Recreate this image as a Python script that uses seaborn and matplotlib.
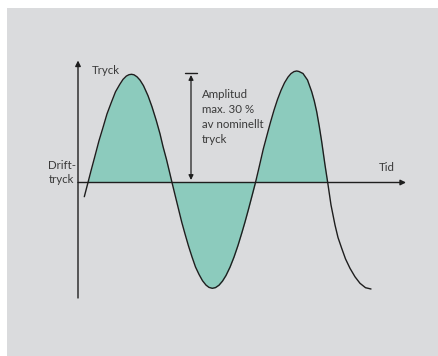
import numpy as np
import pandas as pd
import matplotlib
matplotlib.use("Agg")
import matplotlib.pyplot as plt
import seaborn as sns
from matplotlib.patches import Rectangle

# pressure curve (time, pressure relative to driftstryck)
tid = [6.3, 10.0, 13.0, 16.7, 21.0, 25.0, 29.0, 33.3, 37.5, 41.7, 45.0, 48.3,
       51.0, 53.5, 56.0, 59.0, 62.0, 65.5, 70.0, 74.0, 78.3, 82.0, 85.0, 88.5,
       91.7, 94.0, 97.0, 100.0, 103.7, 107.0, 110.5, 114.0, 117.5, 121.0,
       124.5, 128.0, 131.0, 134.3, 137.5, 141.0, 144.5, 148.0, 152.0, 156.0,
       160.0, 164.0, 167.0, 170.5, 174.0, 177.5, 181.0, 185.3, 189.0, 192.5,
       196.0, 199.5, 203.0, 206.5, 210.0, 213.0, 216.0, 218.7, 221.0, 225.0,
       229.5, 233.7, 236.3, 238.7, 241.3, 243.7, 247.0, 249.7, 253.0, 257.0,
       260.0, 263.7, 267.5, 272.0, 277.0, 282.0, 287.5, 293.0]
tryck = [-14.2, 0.0, 11.7, 25.5, 41.8, 55.0, 68.6, 80.0, 90.7, 98.0, 103.1,
         106.4, 107.8, 108.2, 107.7, 105.7, 102.4, 96.8, 86.8, 75.7, 61.9,
         48.7, 36.0, 23.0, 9.7, 0.0, -12.3, -24.5, -39.5, -51.4, -63.5, -74.4,
         -84.5, -91.9, -98.2, -102.6, -104.9, -105.8, -105.1, -102.7, -98.6,
         -93.0, -84.7, -74.6, -62.9, -49.8, -39.5, -26.7, -13.4, 0.0, 14.8,
         33.5, 47.3, 60.3, 72.3, 83.0, 92.1, 99.7, 105.4, 108.9, 110.9, 111.5,
         111.0, 109.0, 102.5, 90.8, 81.5, 70.8, 56.0, 40.8, 17.5, 0.0, -22.5,
         -42.5, -55.0, -65.8, -76.4, -85.8, -94.3, -100.8, -105.2, -106.5]

amplitud_topp = 109.8
amplitud_label = "Amplitud\nmax. 30 %\nav nominellt\ntryck"

df = pd.DataFrame({"tid": tid, "tryck": tryck})

sns.set_style("white")
plt.rcParams["font.family"] = ["Lato", "DejaVu Sans"]

fig = plt.figure(figsize=(4.38, 3.56), dpi=100)
fig.patch.set_facecolor("white")

ax = fig.add_axes([0, 0, 1, 1])
ax.set_facecolor("none")
ax.set_xlim(-78, 360)
ax.set_ylim(-173.5, 182.5)
ax.axis("off")

# grey panel behind the drawing
ax.add_patch(Rectangle((7 / 438, 0), 1, 1 - 8 / 356, transform=ax.transAxes,
                       facecolor="#dadbdd", edgecolor="none", zorder=0,
                       clip_on=False))

ink = "#1e1e1e"
txt = "#3a3a3a"

# shaded area between first and last crossing
seg = df[(df["tid"] >= 10.0) & (df["tid"] <= 249.7)]
ax.fill_between(seg["tid"], seg["tryck"], 0, color="#8ccbbd", lw=0, zorder=1)

sns.lineplot(data=df, x="tid", y="tryck", sort=False, estimator=None,
             color=ink, lw=1.0, ax=ax, zorder=3)

# axes with arrow heads
ax.annotate("", xy=(0, 122), xytext=(0, -115.5),
            arrowprops=dict(arrowstyle="-|>", color=ink, lw=1.0,
                            mutation_scale=8, shrinkA=0, shrinkB=0), zorder=2)
ax.annotate("", xy=(328, 0), xytext=(0, 0),
            arrowprops=dict(arrowstyle="-|>", color=ink, lw=1.0,
                            mutation_scale=8, shrinkA=0, shrinkB=0), zorder=2)

# amplitude marker
ax.plot([107, 119], [amplitud_topp, amplitud_topp], color=ink, lw=1.0)
ax.annotate("", xy=(113, 107.5), xytext=(113, 2.5),
            arrowprops=dict(arrowstyle="<|-|>", color=ink, lw=0.9,
                            mutation_scale=7, shrinkA=0, shrinkB=0))

fs = 8.3
ax.text(13.7, 112.2, "Tryck", fontsize=fs, color=txt, va="center", ha="left")
ax.text(301, 14.8, "Tid", fontsize=fs, color=txt, va="center", ha="left")
ax.text(-29.7, 9.7, "Drift-\ntryck", fontsize=fs, color=txt, va="center",
        ha="left", linespacing=1.3)
ax.text(123.7, 65.2, amplitud_label, fontsize=fs, color=txt, va="center",
        ha="left", linespacing=1.45)

fig.savefig("out.png", dpi=100)
